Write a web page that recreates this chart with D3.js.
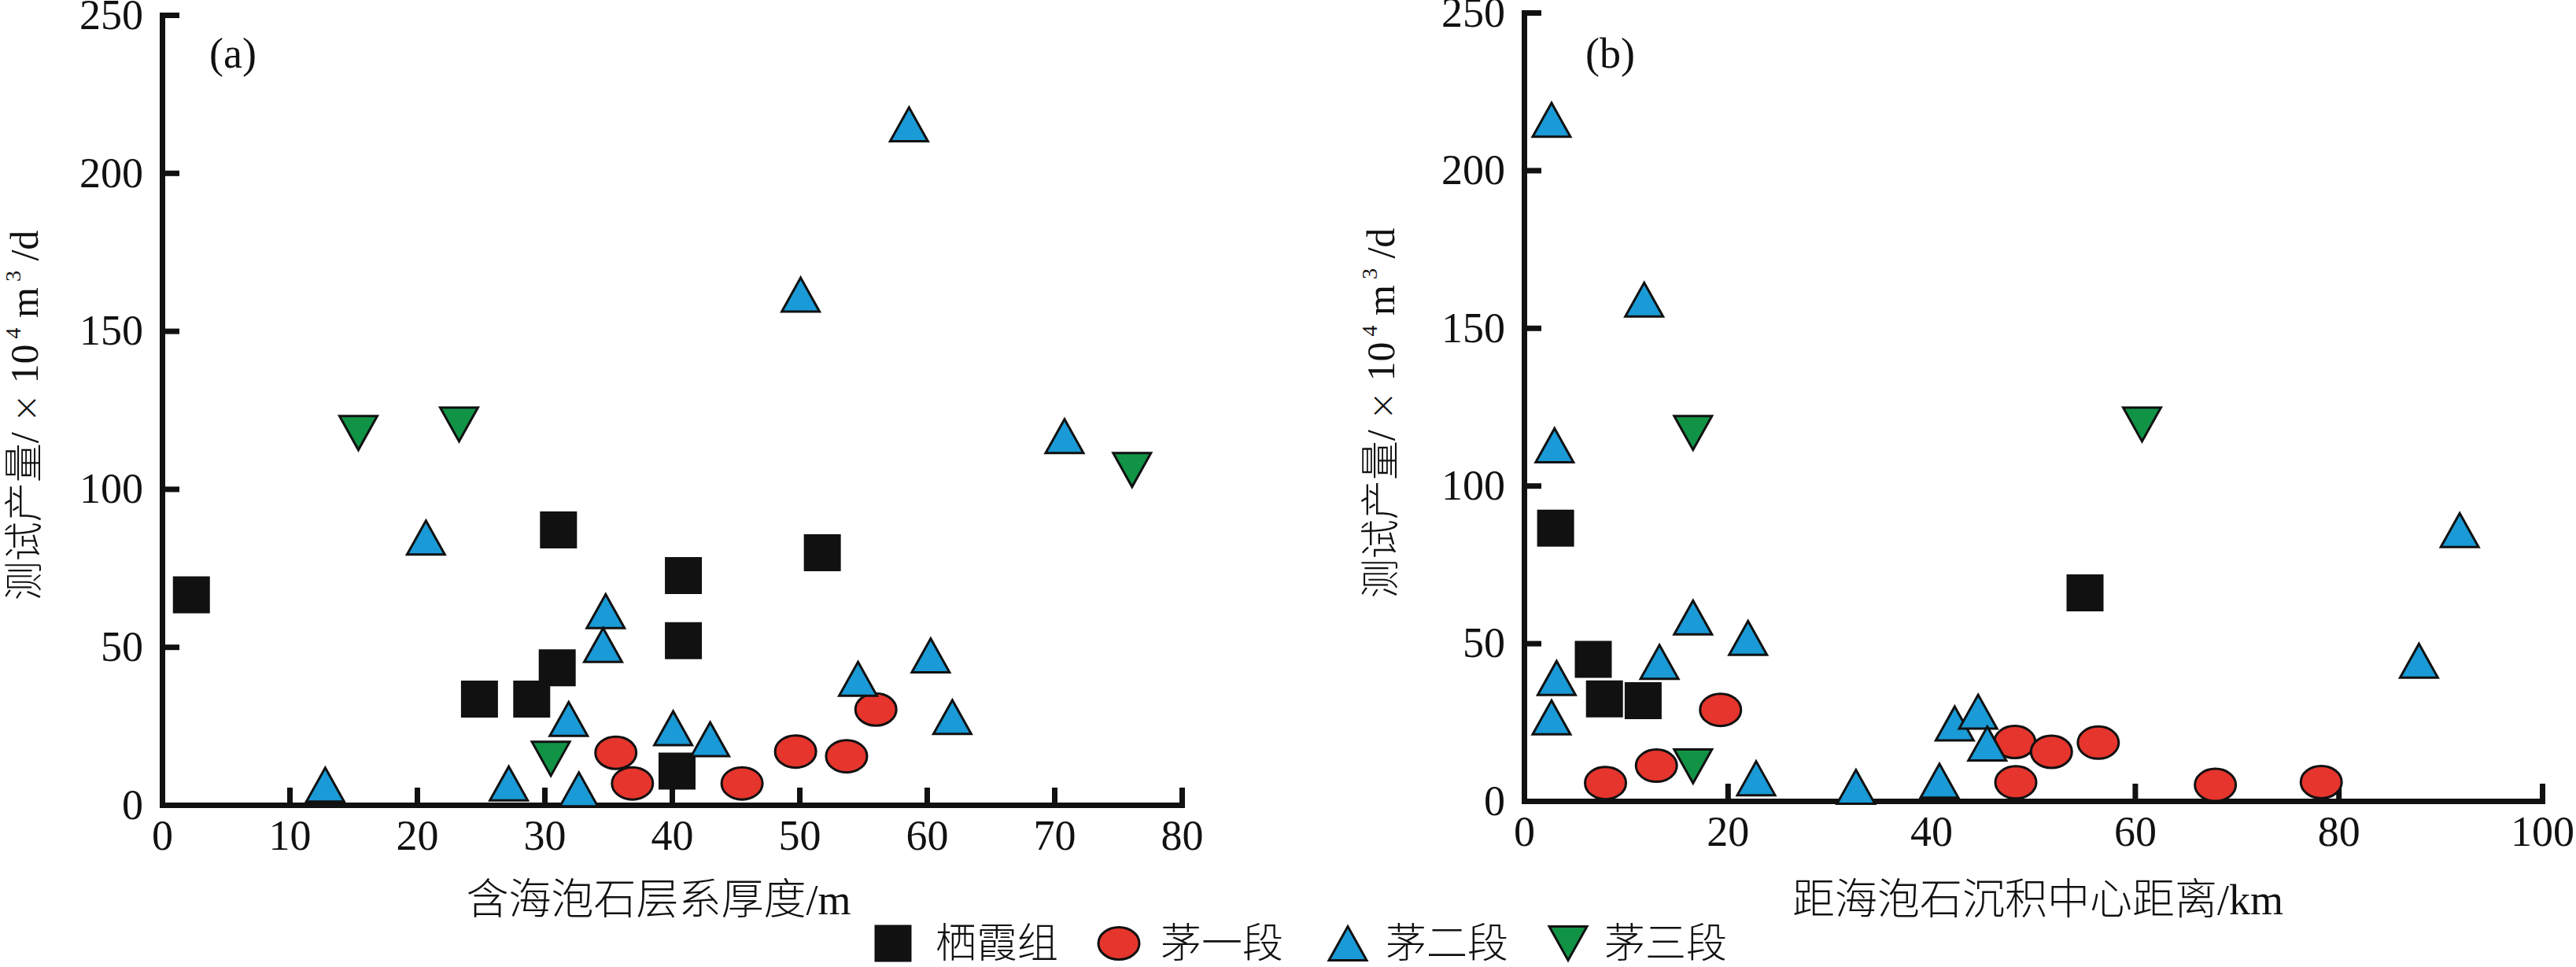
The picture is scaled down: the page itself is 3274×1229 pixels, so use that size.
<!DOCTYPE html>
<html>
<head>
<meta charset="utf-8">
<script src="https://cdn.jsdelivr.net/npm/d3@7/dist/d3.min.js"></script>
<style>
  html, body { margin: 0; padding: 0; background: #fff; }
  svg { display: block; }
  text { font-family: "Liberation Serif", "Noto Sans CJK SC", serif; fill: #111; font-weight: 300; }
</style>
</head>
<body>
<svg id="chart" width="3274" height="1229"></svg>
<script>
// ---------- data ----------
const seriesNames = ["栖霞组", "茅一段", "茅二段", "茅三段"];
const seriesColors = ["#111111", "#e5352d", "#1a9ad6", "#119346"];

// Panel (a): thickness of sepiolite-bearing strata (m) vs test yield
const aQixiaX = [2.3, 31.1, 40.9, 51.8, 40.9, 31.0, 24.9, 29.0, 40.4];
const aQixiaY = [66.5, 87.0, 72.6, 79.8, 52.0, 43.4, 33.5, 33.5, 10.7];
const aMao1X = [35.6, 36.9, 45.5, 49.7, 53.7, 56.0];
const aMao1Y = [16.5, 6.8, 6.8, 16.9, 15.4, 30.2];
const aMao2X = [58.6, 50.1, 70.8, 20.7, 34.8, 34.6, 60.3, 54.6, 31.9, 62.0, 40.1, 43.0, 12.8, 27.2, 32.7];
const aMao2Y = [215.4, 161.5, 116.7, 84.6, 61.3, 50.6, 47.3, 39.9, 27.2, 27.8, 24.3, 20.8, 6.4, 6.8, 4.9];
const aMao3X = [15.4, 23.3, 76.1, 30.5];
const aMao3Y = [117.7, 120.4, 106.0, 14.6];

// Panel (b): distance to sepiolite depocentre (km) vs test yield
const bQixiaX = [3.1, 55.1, 6.8, 7.9, 11.7];
const bQixiaY = [86.5, 66.0, 44.9, 32.4, 31.8];
const bMao1X = [19.3, 13.0, 8.0, 48.2, 51.8, 56.4, 48.3, 67.9, 78.3];
const bMao1Y = [28.9, 11.2, 5.7, 18.7, 15.6, 18.5, 5.9, 5.1, 6.0];
const bMao2X = [2.7, 11.8, 3.0, 91.9, 16.6, 22.0, 13.3, 87.9, 3.2, 2.7, 42.3, 44.6, 45.5, 22.8, 32.6, 40.8];
const bMao2Y = [216.0, 159.0, 112.8, 85.9, 58.2, 51.7, 44.1, 44.5, 39.0, 26.5, 24.6, 28.3, 18.2, 7.2, 4.5, 6.4];
const bMao3X = [16.6, 60.7, 16.6];
const bMao3Y = [116.7, 119.4, 11.0];

const aXTicks = [0, 10, 20, 30, 40, 50, 60, 70, 80];
const bXTicks = [0, 20, 40, 60, 80, 100];
const yTicks = [0, 50, 100, 150, 200, 250];

const aXTitle = "含海泡石层系厚度/m";
const bXTitle = "距海泡石沉积中心距离/km";

// ---------- drawing ----------
const svg = d3.select("#chart");

function zip(xs, ys) { return xs.map((x, i) => ({ x: x, y: ys[i] })); }

const MS = 47; // marker size
function shapePath(kind) {
  const h = 43, w = 48;
  if (kind === 0) return `M${-MS/2},${-MS/2}h${MS}v${MS}h${-MS}Z`;
  if (kind === 2) return `M0,${-h/2}L${w/2},${h/2}L${-w/2},${h/2}Z`;
  if (kind === 3) return `M${-w/2},${-h/2}L${w/2},${-h/2}L0,${h/2}Z`;
  return null;
}

function drawMarker(g, kind) {
  if (kind === 1) {
    g.append("ellipse").attr("rx", 26).attr("ry", 20.5)
      .attr("fill", seriesColors[1]).attr("stroke", "#111").attr("stroke-width", 3);
  } else {
    g.append("path").attr("d", shapePath(kind))
      .attr("fill", seriesColors[kind])
      .attr("stroke", "#111").attr("stroke-width", kind === 0 ? 0 : 3)
      .attr("stroke-linejoin", "miter");
  }
}

function panel(opt) {
  const x = d3.scaleLinear().domain(opt.xDomain).range(opt.xRange);
  const y = d3.scaleLinear().domain([0, 250]).range(opt.yRange);
  const g = svg.append("g");

  const xAxis = d3.axisBottom(x).tickValues(opt.xTicks).tickSizeInner(-22).tickSizeOuter(0).tickPadding(19);
  const yAxis = d3.axisLeft(y).tickValues(yTicks).tickSizeInner(-22).tickSizeOuter(0).tickPadding(24);

  const gx = g.append("g").attr("transform", `translate(0,${opt.yRange[0]})`).call(xAxis);
  const gy = g.append("g").attr("transform", `translate(${opt.xRange[0]},0)`).call(yAxis);
  [gx, gy].forEach(a => {
    a.select(".domain").attr("stroke", "#111").attr("stroke-width", 7).attr("stroke-linecap", "square");
    a.selectAll(".tick line").attr("stroke", "#111").attr("stroke-width", 7);
    a.selectAll(".tick text").attr("font-family", "Liberation Serif").attr("font-size", 54).attr("fill", "#111");
  });

  // series
  opt.series.forEach((pts, k) => {
    g.append("g").selectAll("g").data(pts).join("g")
      .attr("transform", d => `translate(${x(d.x)},${y(d.y)})`)
      .each(function () { drawMarker(d3.select(this), k); });
  });

  // panel label
  g.append("text").attr("x", opt.xRange[0] + opt.labelDx).attr("y", 86)
    .attr("font-size", 54).text(opt.label);

  // x title
  g.append("text").attr("x", opt.xTitleX).attr("y", 1162)
    .attr("text-anchor", "middle").attr("font-size", 54).text(opt.xTitle);

  // y title
  const yt = g.append("text")
    .attr("transform", `translate(${opt.yTitleX},${opt.yTitleY}) rotate(-90)`)
    .attr("text-anchor", "middle").attr("font-size", 50);
  yt.append("tspan").text("测试产量/ ");
  yt.append("tspan").attr("font-family", "DejaVu Sans").attr("font-size", 44).text("×");
  yt.append("tspan").text(" 10");
  yt.append("tspan").attr("font-size", 28).attr("dy", -22).text(" 4");
  yt.append("tspan").attr("dy", 22).text(" m");
  yt.append("tspan").attr("font-size", 28).attr("dy", -22).text(" 3");
  yt.append("tspan").attr("dy", 22).text(" /d");
}

panel({
  xDomain: [0, 80], xRange: [206, 1502], yRange: [1023, 19], xTicks: aXTicks,
  series: [zip(aQixiaX, aQixiaY), zip(aMao1X, aMao1Y), zip(aMao2X, aMao2Y), zip(aMao3X, aMao3Y)],
  label: "(a)", labelDx: 60, xTitle: aXTitle, xTitleX: 837, yTitleX: 48, yTitleY: 528
});

panel({
  xDomain: [0, 100], xRange: [1937, 3231], yRange: [1018, 16], xTicks: bXTicks,
  series: [zip(bQixiaX, bQixiaY), zip(bMao1X, bMao1Y), zip(bMao2X, bMao2Y), zip(bMao3X, bMao3Y)],
  label: "(b)", labelDx: 78, xTitle: bXTitle, xTitleX: 2590, yTitleX: 1772, yTitleY: 525
});

// legend
const legendX = [1135, 1422, 1713, 1993];
const legendTextX = [1189, 1475, 1761, 2039];
const legendY = 1199;
const legend = svg.append("g");
seriesNames.forEach((name, k) => {
  const m = legend.append("g").attr("transform", `translate(${legendX[k]},${legendY})`);
  if (k === 1) {
    m.append("ellipse").attr("rx", 26).attr("ry", 20.5)
      .attr("fill", seriesColors[1]).attr("stroke", "#111").attr("stroke-width", 3);
  } else {
    m.append("path").attr("d", shapePath(k)).attr("fill", seriesColors[k])
      .attr("stroke", "#111").attr("stroke-width", k === 0 ? 0 : 3);
  }
  legend.append("text").attr("x", legendTextX[k]).attr("y", legendY).attr("dy", "0.35em")
    .attr("font-size", 52).text(name);
});
</script>
</body>
</html>
